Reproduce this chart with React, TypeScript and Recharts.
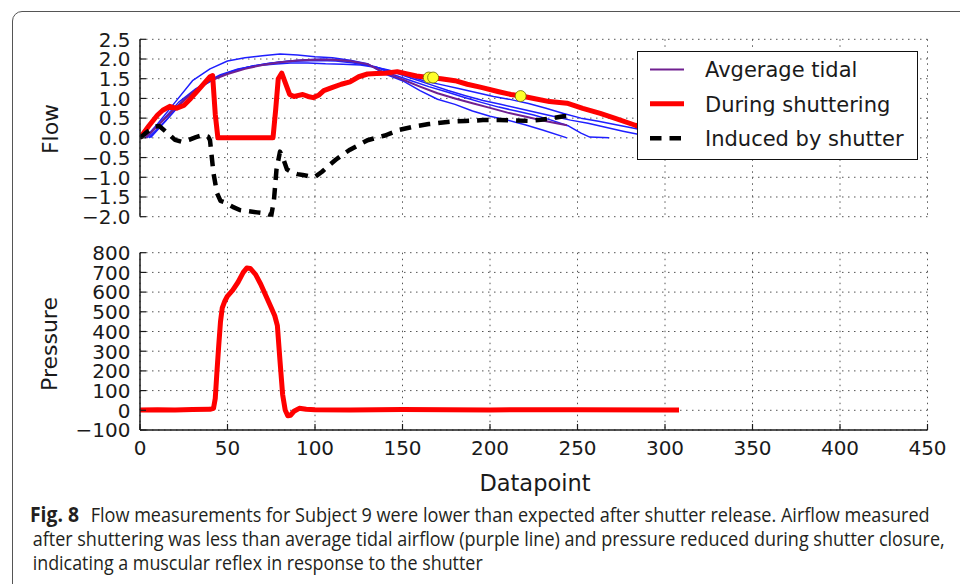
import React from 'react';
import { ComposedChart, Line, XAxis, YAxis, CartesianGrid, Scatter, Legend } from 'recharts';

// ---------- ticks ----------
const xTicks = [0, 50, 100, 150, 200, 250, 300, 350, 400, 450];
const flowTicks = [-2, -1.5, -1, -0.5, 0, 0.5, 1, 1.5, 2, 2.5];
const pressureTicks = [-100, 0, 100, 200, 300, 400, 500, 600, 700, 800];

// ---------- individual tidal breaths (blue) ----------
const blue1X = [3, 10, 20, 30, 40, 50, 60, 70, 80, 90, 100, 110, 120, 130, 140, 150, 160, 170, 180, 190, 200, 210, 220, 230, 244];
const blue1Y = [0, 0.35, 0.9, 1.45, 1.75, 1.95, 2.03, 2.08, 2.13, 2.1, 2.06, 2.03, 1.97, 1.88, 1.62, 1.45, 1.2, 0.98, 0.85, 0.68, 0.55, 0.45, 0.33, 0.2, 0.0];

const blue2X = [5, 15, 25, 35, 45, 55, 65, 75, 85, 95, 105, 115, 125, 135, 145, 155, 165, 175, 185, 195, 205, 215, 225, 235, 245, 252, 257, 268];
const blue2Y = [0, 0.45, 0.95, 1.3, 1.55, 1.72, 1.83, 1.9, 1.95, 1.98, 2.0, 1.97, 1.9, 1.8, 1.6, 1.45, 1.3, 1.17, 1.03, 0.9, 0.78, 0.68, 0.58, 0.45, 0.3, 0.12, 0.02, 0.0];

const blue3X = [4, 12, 22, 32, 42, 52, 62, 72, 82, 92, 102, 112, 122, 132, 142, 152, 162, 172, 182, 192, 202, 212, 222, 232, 242, 252, 262, 272, 283, 292];
const blue3Y = [0, 0.4, 0.9, 1.25, 1.5, 1.68, 1.8, 1.88, 1.93, 1.95, 1.96, 1.95, 1.9, 1.82, 1.72, 1.6, 1.45, 1.35, 1.25, 1.15, 1.05, 0.97, 0.87, 0.75, 0.62, 0.5, 0.42, 0.33, 0.24, 0.15];

const blue4X = [6, 16, 26, 36, 46, 56, 66, 76, 86, 96, 106, 116, 126, 136, 146, 156, 166, 176, 186, 196, 206, 216, 226, 236, 246, 256, 266, 276, 286, 295];
const blue4Y = [0, 0.5, 1.0, 1.38, 1.6, 1.75, 1.83, 1.87, 1.9, 1.9, 1.88, 1.87, 1.85, 1.78, 1.65, 1.5, 1.35, 1.2, 1.07, 0.95, 0.85, 0.75, 0.65, 0.55, 0.45, 0.37, 0.27, 0.17, 0.08, 0.03];

// ---------- average tidal (purple) ----------
const avgX = [3, 10, 20, 30, 40, 50, 60, 70, 80, 90, 100, 110, 120, 130, 140, 150, 160, 170, 180, 190, 200, 210, 220, 230, 238, 244];
const avgY = [0, 0.3, 0.75, 1.15, 1.45, 1.62, 1.75, 1.85, 1.92, 1.96, 1.98, 1.98, 1.95, 1.87, 1.65, 1.48, 1.3, 1.13, 1.0, 0.88, 0.76, 0.64, 0.54, 0.44, 0.37, 0.32];

// ---------- during shuttering (red) ----------
const shutX = [0, 5, 10, 13, 17, 21, 25, 29, 33, 37, 40, 41.5, 43, 44.5, 50, 60, 70, 76, 77.5, 79, 81, 83, 85.5, 88, 90, 93, 96, 99, 102, 105, 110, 115, 120, 125, 130, 135, 140, 147, 152, 158, 165, 172, 180, 187, 195, 205, 212, 218, 225, 234, 244, 253, 263, 272, 283, 292, 300];
const shutY = [0, 0.3, 0.58, 0.7, 0.8, 0.75, 0.82, 1.0, 1.2, 1.4, 1.55, 1.58, 0.6, 0, 0, 0, 0, 0, 0.7, 1.5, 1.64, 1.4, 1.1, 1.05, 1.07, 1.1, 1.05, 1.02, 1.08, 1.2, 1.28, 1.36, 1.42, 1.55, 1.62, 1.63, 1.64, 1.68, 1.63, 1.57, 1.53, 1.5, 1.45, 1.36, 1.28, 1.17, 1.1, 1.06, 1.0, 0.92, 0.88, 0.75, 0.62, 0.49, 0.32, 0.2, 0.1];

// ---------- induced by shutter (black dashed) ----------
const inducedX = [0, 4, 8, 11, 15, 20, 24, 28, 32, 36, 39, 40, 42, 44, 46, 48, 53, 57, 62, 67, 72, 75, 76.5, 78, 80, 82, 84, 87, 90, 93, 96, 100, 104, 108, 112, 116, 120, 125, 130, 135, 140, 148, 156, 165, 177, 186, 196, 205, 215, 222, 229, 236, 242, 244];
const inducedY = [0, 0.15, 0.28, 0.3, 0.15, -0.05, -0.1, -0.05, 0.02, 0.07, 0.03, -0.06, -0.9, -1.4, -1.6, -1.63, -1.75, -1.83, -1.86, -1.89, -1.92, -1.97, -1.6, -0.8, -0.35, -0.55, -0.8, -0.88, -0.92, -0.94, -0.97, -0.99, -0.86, -0.7, -0.55, -0.42, -0.3, -0.18, -0.06, 0.0, 0.06, 0.2, 0.28, 0.35, 0.41, 0.43, 0.45, 0.45, 0.44, 0.43, 0.46, 0.5, 0.55, 0.55];

// ---------- yellow markers ----------
const markerX = [165, 167.5, 217.5];
const markerY = [1.53, 1.53, 1.06];

// ---------- pressure ----------
const pressX = [0, 10, 20, 30, 40, 42, 43, 44, 45, 46, 47, 48.5, 50, 53, 56, 59, 61, 63, 66, 69, 72, 75, 77, 78.5, 80, 81.5, 83, 84.5, 86, 88, 91, 95, 100, 120, 150, 200, 250, 300, 308];
const pressY = [2, 3, 1, 4, 5, 10, 60, 200, 330, 450, 520, 555, 580, 610, 650, 700, 722, 720, 690, 640, 580, 520, 480, 430, 250, 80, 0, -28, -25, -5, 10, 5, 3, 2, 4, 2, 3, 2, 2];

const legendNames = ['Avgerage tidal', 'During shuttering', 'Induced by shutter'];

const captionBold = 'Fig. 8';
const captionLines = [
  'Flow measurements for Subject 9 were lower than expected after shutter release. Airflow measured',
  'after shuttering was less than average tidal airflow (purple line) and pressure reduced during shutter closure,',
  'indicating a muscular reflex in response to the shutter',
];

// ---------- helpers ----------
const pts = (xs: number[], ys: number[]) => xs.map((x, i) => ({ x, y: ys[i] }));
const minus = (s: string) => s.replace('-', '\u2212');
const fmtFlow = (v: number) => minus(v.toFixed(1));
const fmtInt = (v: number) => minus(String(v));

const FONT = "'DejaVu Sans', sans-serif";
const CAP_FONT = "'Open Sans', 'Noto Sans', sans-serif";
const INK = '#1a1a1a';
const TL = 6;

const BLUE = '#1f1fff';
const PURPLE = '#702090';
const RED = '#ff0000';
const BLACK = '#000000';

const leftTick = (fmt: (v: number) => string) => (p: any) => (
  <g>
    <line x1={p.x} x2={p.x + TL} y1={p.y} y2={p.y} stroke={INK} strokeWidth={1.2} />
    <text x={p.x - 9.5} y={p.y} dy="0.365em" textAnchor="end" fontSize={20} fontFamily={FONT} fill={INK}>
      {fmt(p.payload.value)}
    </text>
  </g>
);
const rightTick = (p: any) => <line x1={p.x - TL} x2={p.x} y1={p.y} y2={p.y} stroke={INK} strokeWidth={1.2} />;
const topTick = (p: any) => <line x1={p.x} x2={p.x} y1={p.y} y2={p.y + TL} stroke={INK} strokeWidth={1.2} />;
const bottomTickBare = (p: any) => <line x1={p.x} x2={p.x} y1={p.y - TL} y2={p.y} stroke={INK} strokeWidth={1.2} />;
const bottomTickLabel = (p: any) => (
  <g>
    <line x1={p.x} x2={p.x} y1={p.y - TL} y2={p.y} stroke={INK} strokeWidth={1.2} />
    <text x={p.x} y={p.y + 24.5} textAnchor="middle" fontSize={20} fontFamily={FONT} fill={INK}>
      {p.payload.value}
    </text>
  </g>
);

const axisLine = { stroke: INK, strokeWidth: 1.5 };
const gridProps = { stroke: '#555', strokeDasharray: '1.5 4.5', strokeWidth: 1 };

const legendStyles: Record<string, { stroke: string; width: number; dash?: string }> = {
  'Avgerage tidal': { stroke: PURPLE, width: 2 },
  'During shuttering': { stroke: RED, width: 5 },
  'Induced by shutter': { stroke: BLACK, width: 4.5, dash: '11.5 8' },
};

const LegendBox = (props: any) => {
  const payload = (props.payload || []).filter((e: any) => legendNames.includes(e.value));
  const rowY = [17.5, 51.8, 86.3];
  return (
    <div style={{ width: 281, height: 109, border: '1.3px solid #111', background: '#fff', boxSizing: 'border-box' }}>
      <svg width={279} height={107} style={{ display: 'block' }}>
        {payload.map((e: any, i: number) => {
          const st = legendStyles[e.value];
          return (
            <g key={e.value}>
              <line x1={12} x2={46} y1={rowY[i]} y2={rowY[i]} stroke={st.stroke} strokeWidth={st.width} strokeDasharray={st.dash} />
              <text x={67} y={rowY[i] + 7.8} fontSize={21} fontFamily={FONT} fill={INK}>{e.value}</text>
            </g>
          );
        })}
      </svg>
    </div>
  );
};

const lineCommon = { type: 'linear' as const, dataKey: 'y', dot: false, activeDot: false, isAnimationActive: false, strokeLinejoin: 'round' as const };

export default function App() {
  return (
    <div style={{ position: 'absolute', left: 0, top: 0, width: 960, height: 584, overflow: 'hidden', background: '#fff' }}>
      <div style={{ position: 'absolute', left: 12, top: 11, width: 1000, height: 700, border: '1.2px solid #555', borderRadius: 10 }} />

      {/* Flow chart */}
      <div style={{ position: 'absolute', left: 0, top: 0 }}>
        <ComposedChart width={960} height={240} margin={{ top: 39.3, right: 32.5, bottom: 23.3, left: 80 }}>
          <CartesianGrid {...gridProps} />
          <XAxis type="number" dataKey="x" domain={[0, 450]} ticks={xTicks} allowDataOverflow interval={0} height={0} tickSize={0} tickMargin={0} tickLine={false} axisLine={axisLine} tick={bottomTickBare} />
          <XAxis xAxisId="top" orientation="top" type="number" dataKey="x" domain={[0, 450]} ticks={xTicks} allowDataOverflow interval={0} height={0} tickSize={0} tickMargin={0} tickLine={false} axisLine={axisLine} tick={topTick} />
          <YAxis type="number" domain={[-2, 2.5]} ticks={flowTicks} allowDataOverflow interval={0} width={60} tickSize={0} tickMargin={0} tickLine={false} axisLine={axisLine} tick={leftTick(fmtFlow)} />
          <YAxis yAxisId="right" orientation="right" type="number" domain={[-2, 2.5]} ticks={flowTicks} allowDataOverflow interval={0} width={0} tickSize={0} tickMargin={0} tickLine={false} axisLine={axisLine} tick={rightTick} />
          <Line {...lineCommon} data={pts(blue1X, blue1Y)} stroke={BLUE} strokeWidth={1.5} legendType="none" name="b1" />
          <Line {...lineCommon} data={pts(blue2X, blue2Y)} stroke={BLUE} strokeWidth={1.5} legendType="none" name="b2" />
          <Line {...lineCommon} data={pts(blue3X, blue3Y)} stroke={BLUE} strokeWidth={1.5} legendType="none" name="b3" />
          <Line {...lineCommon} data={pts(blue4X, blue4Y)} stroke={BLUE} strokeWidth={1.5} legendType="none" name="b4" />
          <Line {...lineCommon} data={pts(avgX, avgY)} stroke={PURPLE} strokeWidth={2} name={legendNames[0]} />
          <Line {...lineCommon} data={pts(shutX, shutY)} stroke={RED} strokeWidth={5} name={legendNames[1]} />
          <Line {...lineCommon} data={pts(inducedX, inducedY)} stroke={BLACK} strokeWidth={4.5} strokeDasharray="11.5 8" name={legendNames[2]} />
          <Scatter
            data={pts(markerX, markerY)}
            dataKey="y"
            legendType="none"
            name="markers"
            isAnimationActive={false}
            shape={(p: any) => <circle cx={p.cx} cy={p.cy} r={5.5} fill="#ffff2a" stroke="#6b6b00" strokeWidth={0.8} />}
          />
          <Legend layout="vertical" align="center" verticalAlign="middle" wrapperStyle={{ left: 637, top: 51, width: 281, height: 109 }} content={(p: any) => <LegendBox {...p} />} />
        </ComposedChart>
      </div>

      {/* Pressure chart */}
      <div style={{ position: 'absolute', left: 0, top: 240 }}>
        <ComposedChart width={960} height={260} margin={{ top: 12.7, right: 32.5, bottom: 30, left: 80 }}>
          <CartesianGrid {...gridProps} />
          <XAxis type="number" dataKey="x" domain={[0, 450]} ticks={xTicks} allowDataOverflow interval={0} height={40} tickSize={0} tickMargin={0} tickLine={false} axisLine={axisLine} tick={bottomTickLabel} />
          <XAxis xAxisId="top" orientation="top" type="number" dataKey="x" domain={[0, 450]} ticks={xTicks} allowDataOverflow interval={0} height={0} tickSize={0} tickMargin={0} tickLine={false} axisLine={axisLine} tick={topTick} />
          <YAxis type="number" domain={[-100, 800]} ticks={pressureTicks} allowDataOverflow interval={0} width={60} tickSize={0} tickMargin={0} tickLine={false} axisLine={axisLine} tick={leftTick(fmtInt)} />
          <YAxis yAxisId="right" orientation="right" type="number" domain={[-100, 800]} ticks={pressureTicks} allowDataOverflow interval={0} width={0} tickSize={0} tickMargin={0} tickLine={false} axisLine={axisLine} tick={rightTick} />
          <Line {...lineCommon} data={pts(pressX, pressY)} stroke={RED} strokeWidth={5} name="Pressure" />
        </ComposedChart>
      </div>

      {/* Axis labels and caption */}
      <svg width={960} height={584} style={{ position: 'absolute', left: 0, top: 0, pointerEvents: 'none' }}>
        <text transform="translate(57.5,129) rotate(-90)" textAnchor="middle" fontSize={22} fontFamily={FONT} fill={INK}>Flow</text>
        <text transform="translate(56.5,344) rotate(-90)" textAnchor="middle" fontSize={22} fontFamily={FONT} fill={INK}>Pressure</text>
        <text x={535} y={490.7} textAnchor="middle" fontSize={22.5} fontFamily={FONT} fill={INK}>Datapoint</text>

        <text x={30} y={522} fontSize={20.5} fontWeight={700} fontFamily={CAP_FONT} fill="#231f20" textLength={49} lengthAdjust="spacingAndGlyphs">{captionBold}</text>
        <text x={90.7} y={522} fontSize={20.5} fontFamily={CAP_FONT} fill="#231f20" textLength={839} lengthAdjust="spacingAndGlyphs">{captionLines[0]}</text>
        <text x={32.7} y={546} fontSize={20.5} fontFamily={CAP_FONT} fill="#231f20" textLength={912} lengthAdjust="spacingAndGlyphs">{captionLines[1]}</text>
        <text x={32.7} y={570} fontSize={20.5} fontFamily={CAP_FONT} fill="#231f20" textLength={450} lengthAdjust="spacingAndGlyphs">{captionLines[2]}</text>
      </svg>
    </div>
  );
}
